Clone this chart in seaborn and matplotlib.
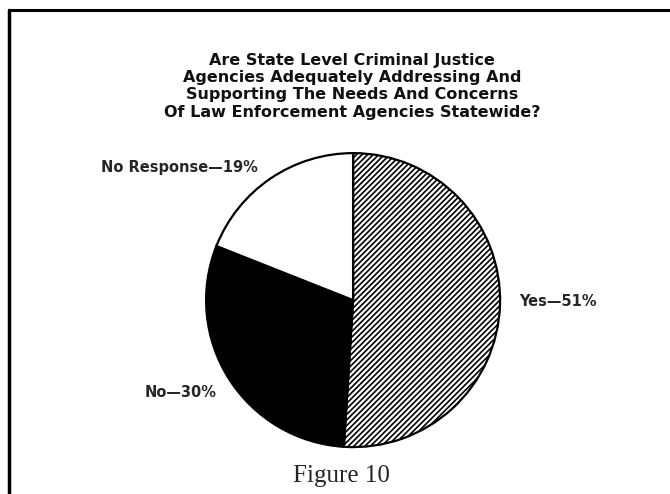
import matplotlib
matplotlib.use("Agg")
import matplotlib.pyplot as plt
from matplotlib.lines import Line2D
import seaborn as sns

# survey answers
answers = ["Yes", "No", "No Response"]
shares = [51, 30, 19]
label_texts = ["Yes\u201451%", "No\u201430%", "No Response\u201419%"]
title_lines = [
    "Are State Level Criminal Justice",
    "Agencies Adequately Addressing And",
    "Supporting The Needs And Concerns",
    "Of Law Enforcement Agencies Statewide?",
]
caption = "Figure 10"

sns.set_theme(style="white")
plt.rcParams["font.family"] = ["DejaVu Sans"]
plt.rcParams["hatch.linewidth"] = 1.2
plt.rcParams["hatch.color"] = "black"

fig = plt.figure(figsize=(6.7, 4.94), dpi=100)
fig.patch.set_facecolor("white")

# scanned frame: left and top rule only
fig.add_artist(Line2D([0.013, 0.013], [0.0, 0.98], color="black", lw=2.5, transform=fig.transFigure))
fig.add_artist(Line2D([0.013, 1.0], [0.98, 0.98], color="black", lw=2.2, transform=fig.transFigure))

# title, one line at a time
for line, yb in zip(title_lines, [0.868, 0.834, 0.800, 0.764]):
    fig.text(0.526, yb, line, ha="center", va="baseline",
             fontsize=11.5, fontweight="bold", color="#111111")

ax = fig.add_axes([0.303, 0.089, 0.448, 0.607])
wedges, _ = ax.pie(shares, startangle=90, counterclock=False,
                   colors=["white", "black", "white"],
                   wedgeprops=dict(edgecolor="black", linewidth=1.6))
wedges[0].set_hatch("//////")
ax.set_xlim(-1.02, 1.02)
ax.set_ylim(-1.02, 1.02)
ax.set_aspect("equal")
ax.axis("off")

ax.text(1.13, -0.01, label_texts[0], ha="left", va="center", fontsize=10.5, fontweight="bold")
ax.text(-0.93, -0.63, label_texts[1], ha="right", va="center", fontsize=10.5, fontweight="bold")
ax.text(-0.65, 0.905, label_texts[2], ha="right", va="center", fontsize=10.5, fontweight="bold")

fig.text(0.509, 0.036, caption, ha="center", va="center", fontsize=18,
         family="Liberation Serif")

fig.savefig("out.png", dpi=100)
